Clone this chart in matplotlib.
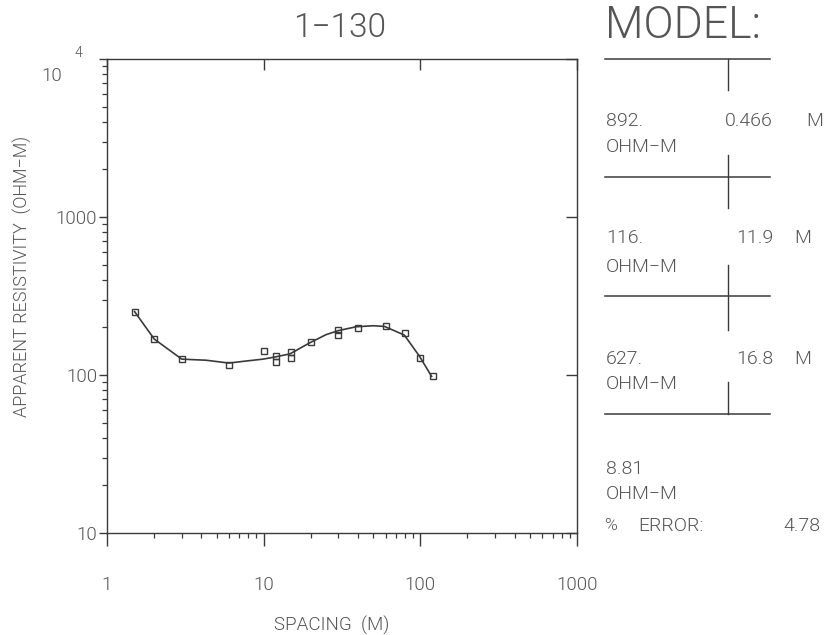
import matplotlib
matplotlib.use("Agg")
import matplotlib.pyplot as plt
import matplotlib.font_manager as fm
from matplotlib.font_manager import FontProperties
from matplotlib.ticker import LogLocator, NullFormatter, FixedLocator, FixedFormatter

# ---- data ----
spacing = [1.5, 2, 3, 6, 10, 12, 12, 15, 15, 20, 30, 30, 40, 60, 80, 100, 120]
rho_obs = [252, 169, 126, 116, 141, 132, 120, 140, 129, 161, 193, 180, 198, 203, 184, 129, 98]

curve_x = [1.5, 2.0, 3.0, 4.3, 6.0, 7.4, 9.9, 11.8, 14.7, 19.5, 25, 30, 39, 50, 59, 79, 99, 118]
curve_y = [252, 169, 126, 124, 119, 122, 126, 130, 136, 159, 180, 191, 202, 205, 203, 179, 131, 98]

x_ticks = [1, 10, 100, 1000]
x_ticklabels = ["1", "10", "100", "1000"]
y_ticks = [10, 100, 1000, 10000]
y_ticklabels = ["10", "100", "1000", ""]

title = "1\u2212130"
xlabel = "SPACING  (M)"
ylabel = "APPARENT RESISTIVITY  (OHM\u2212M)"

layer_rho = ["892.", "116.", "627.", "8.81"]
layer_thick = ["0.466", "11.9", "16.8"]
unit_rho = "OHM\u2212M"
unit_thick = "M"
error_label = "ERROR:"
error_value = "4.78"

LINE = "#3a3a3a"
TEXT = "#555555"


def _weight(w):
    if isinstance(w, int):
        return w
    table = {"thin": 100, "extralight": 200, "ultralight": 200, "light": 300,
             "normal": 400, "regular": 400, "book": 400}
    return table.get(str(w).lower(), 400)


light_file = None
for fam in ["Roboto", "Lato", "Open Sans", "Noto Sans", "Inter"]:
    cands = [f for f in fm.fontManager.ttflist
             if f.name == fam and f.style == "normal" and 250 <= _weight(f.weight) <= 300
             and "condensed" not in f.fname.lower() and "italic" not in f.fname.lower()]
    if cands:
        light_file = cands[0].fname
        break


def fp(size):
    if light_file:
        p = FontProperties(fname=light_file)
    else:
        p = FontProperties(family="DejaVu Sans")
    p.set_size(size)
    return p


W, H = 826, 635
fig = plt.figure(figsize=(W / 100, H / 100), dpi=100)
fig.patch.set_facecolor("white")

L, R, T, B = 107, 577, 59, 533
ax = fig.add_axes([L / W, 1 - B / H, (R - L) / W, (B - T) / H])
ax.set_xscale("log")
ax.set_yscale("log")
ax.set_xlim(1, 1000)
ax.set_ylim(10, 10000)

ax.plot(curve_x, curve_y, color=LINE, lw=1.2, zorder=2)
ax.plot(spacing, rho_obs, ls="none", marker="s", ms=5, mfc="none", mec=LINE, mew=1.0, zorder=3)

for s in ax.spines.values():
    s.set_color(LINE)
    s.set_linewidth(1.0)

ax.xaxis.set_major_locator(FixedLocator(x_ticks))
ax.xaxis.set_major_formatter(FixedFormatter(x_ticklabels))
ax.yaxis.set_major_locator(FixedLocator(y_ticks))
ax.yaxis.set_major_formatter(FixedFormatter(y_ticklabels))
ax.xaxis.set_minor_locator(LogLocator(base=10, subs=range(2, 10)))
ax.yaxis.set_minor_locator(LogLocator(base=10, subs=range(2, 10)))
ax.xaxis.set_minor_formatter(NullFormatter())
ax.yaxis.set_minor_formatter(NullFormatter())

ax.tick_params(axis="x", which="major", direction="out", length=9, width=1, color=LINE,
               pad=22, labelcolor=TEXT)
ax.tick_params(axis="x", which="minor", direction="out", length=3.5, width=0.9, color=LINE)
ax.tick_params(axis="y", which="major", direction="out", length=6, width=1, color=LINE,
               pad=1, labelcolor=TEXT)
ax.tick_params(axis="y", which="minor", direction="out", length=3.5, width=0.9, color=LINE)
for lab in ax.get_xticklabels() + ax.get_yticklabels():
    lab.set_fontproperties(fp(13.5))

axt = ax.secondary_xaxis("top")
axt.xaxis.set_major_locator(FixedLocator(x_ticks))
axt.xaxis.set_minor_locator(FixedLocator([]))
axt.tick_params(axis="x", which="major", direction="in", length=8, width=1, color=LINE, labeltop=False)
axt.spines["top"].set_visible(False)
axr = ax.secondary_yaxis("right")
axr.yaxis.set_major_locator(FixedLocator(y_ticks))
axr.yaxis.set_minor_locator(FixedLocator([]))
axr.tick_params(axis="y", which="major", direction="in", length=8, width=1, color=LINE, labelright=False)
axr.spines["right"].set_visible(False)

ov = fig.add_axes([0, 0, 1, 1], facecolor="none")
ov.set_xlim(0, W)
ov.set_ylim(H, 0)
ov.axis("off")


def txt(x, y, s, size, ha="left", rot=0):
    ov.text(x, y, s, fontproperties=fp(size), color=TEXT, ha=ha, va="center", rotation=rot)


txt(340, 28, title, 24, ha="center")
txt(332, 625, xlabel, 13.5, ha="center")
txt(22, 276, ylabel, 13, ha="center", rot=90)
txt(52, 76, "10", 13.5, ha="center")
txt(78, 53, "4", 10, ha="center")

txt(605, 26, "MODEL:", 32)
for y in [59, 177, 296, 414]:
    ov.plot([605, 770], [y, y], color=LINE, lw=1.1)
for y0, y1 in [(59, 90), (155, 208), (265, 330), (382, 414)]:
    ov.plot([728, 728], [y0, y1], color=LINE, lw=1.0)

rho_y = [121, 238, 359, 469]
unit_y = [147, 267, 384, 494]
m_x = [806, 794, 794]
for i, r in enumerate(layer_rho):
    txt(606, rho_y[i], r, 14)
    txt(606, unit_y[i], unit_rho, 14)
for i, t in enumerate(layer_thick):
    txt(773, rho_y[i], t, 14, ha="right")
    txt(m_x[i], rho_y[i], unit_thick, 14)

txt(604, 526, "%", 12.5)
txt(638, 526, error_label, 14)
txt(820, 526, error_value, 14, ha="right")

fig.savefig("out.png", dpi=100, facecolor="white")
